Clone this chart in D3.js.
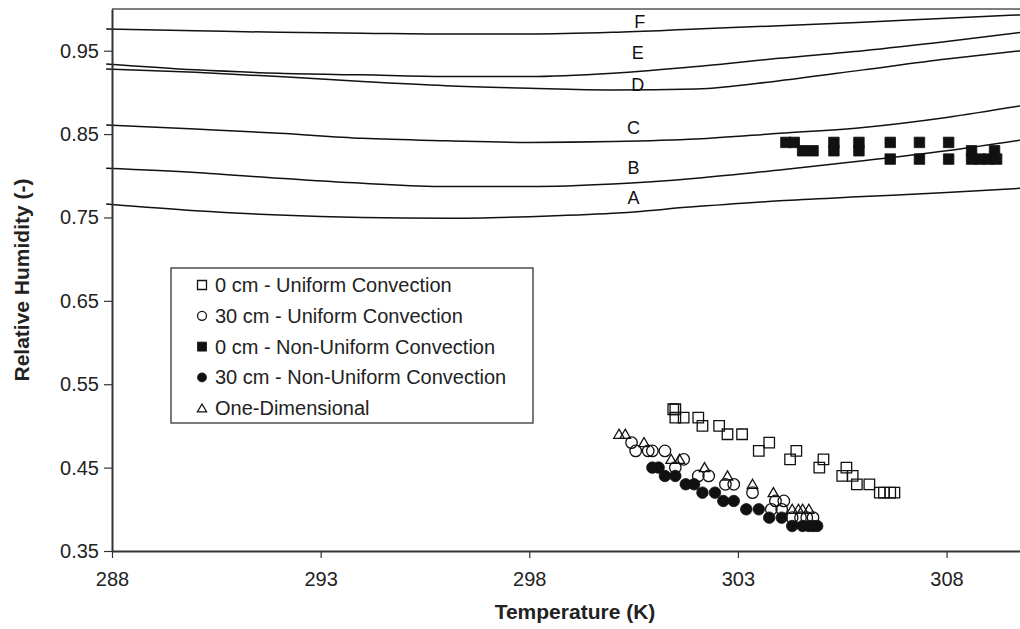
<!DOCTYPE html>
<html>
<head>
<meta charset="utf-8">
<script src="https://cdn.jsdelivr.net/npm/d3@7"></script>
<style>
  html, body { margin: 0; padding: 0; background: #fff; }
  svg { display: block; font-family: "Liberation Sans", Arial, sans-serif; }
</style>
</head>
<body>
<svg id="chart" width="1020" height="629"></svg>
<script>
// Constant relative-humidity reference curves A–F: [temperature K, RH]
const curveA = [[287.86,0.766],[290,0.758],[292,0.753],[294,0.750],[296,0.749],[298,0.751],[300,0.755],[302,0.763],[304,0.770],[306,0.775],[308,0.780],[309.8,0.785]];
const curveB = [[287.86,0.809],[290,0.804],[292,0.797],[294,0.791],[296,0.787],[298,0.787],[300,0.790],[302,0.797],[304,0.807],[306,0.818],[308,0.830],[309.8,0.843]];
const curveC = [[287.86,0.861],[290,0.856],[292,0.851],[294,0.845],[296,0.842],[298,0.840],[300,0.841],[302,0.844],[304,0.851],[306,0.858],[308,0.870],[309.8,0.884]];
const curveD = [[287.86,0.928],[290,0.924],[292,0.919],[294,0.913],[296,0.908],[298,0.905],[300,0.903],[302,0.904],[304,0.914],[306,0.927],[308,0.940],[309.8,0.950]];
const curveE = [[287.86,0.934],[290,0.927],[292,0.923],[294,0.921],[296,0.919],[298,0.919],[300,0.923],[302,0.931],[304,0.941],[306,0.950],[308,0.961],[309.8,0.972]];
const curveF = [[287.86,0.976],[290,0.974],[292,0.972],[294,0.971],[296,0.970],[298,0.970],[300,0.972],[302,0.976],[304,0.980],[306,0.984],[308,0.989],[309.8,0.993]];

const curveNames = ["A", "B", "C", "D", "E", "F"];
// label anchor for each curve letter: [temperature, RH]
const curveLabelPos = [[300.5,0.773],[300.5,0.809],[300.5,0.857],[300.6,0.909],[300.6,0.947],[300.65,0.985]];

// Measured points: [temperature K, RH]
const uniform0cm = [[301.45,0.52],[301.5,0.52],[301.5,0.51],[301.7,0.51],[302.05,0.51],[302.15,0.50],[302.55,0.50],[302.75,0.49],[303.1,0.49],[303.5,0.47],[303.75,0.48],[304.25,0.46],[304.4,0.47],[304.95,0.45],[305.05,0.46],[305.5,0.44],[305.6,0.45],[305.75,0.44],[305.85,0.43],[306.15,0.43],[306.4,0.42],[306.5,0.42],[306.65,0.42],[306.75,0.42]];
const uniform30cm = [[300.45,0.48],[300.55,0.47],[300.85,0.47],[300.95,0.47],[301.25,0.47],[301.7,0.46],[301.5,0.45],[302.05,0.44],[302.3,0.44],[302.7,0.43],[302.9,0.43],[303.35,0.42],[303.9,0.41],[304.1,0.41],[303.8,0.40],[304.05,0.40],[304.3,0.39],[304.5,0.39],[304.65,0.39],[304.8,0.39]];
const nonUniform0cm = [[304.15,0.84],[304.35,0.84],[304.55,0.83],[304.8,0.83],[305.3,0.84],[305.3,0.83],[305.9,0.84],[305.9,0.83],[306.65,0.84],[306.65,0.82],[307.35,0.84],[307.35,0.82],[308.05,0.84],[308.05,0.82],[308.6,0.83],[309.15,0.83],[308.6,0.82],[308.8,0.82],[309.0,0.82],[309.2,0.82]];
const nonUniform30cm = [[300.95,0.45],[301.1,0.45],[301.25,0.44],[301.5,0.44],[301.75,0.43],[301.95,0.43],[302.15,0.42],[302.45,0.42],[302.65,0.41],[302.9,0.41],[303.2,0.40],[303.5,0.40],[303.75,0.39],[304.05,0.39],[304.3,0.38],[304.55,0.38],[304.7,0.38],[304.8,0.38],[304.9,0.38]];
const oneDimensional = [[300.15,0.49],[300.3,0.49],[300.75,0.48],[301.4,0.46],[301.6,0.46],[302.2,0.45],[302.75,0.44],[303.35,0.43],[303.85,0.42],[304.3,0.40],[304.45,0.40],[304.55,0.40],[304.7,0.40]];

const xTicks = [288, 293, 298, 303, 308];
const yTicks = [0.35, 0.45, 0.55, 0.65, 0.75, 0.85, 0.95];
const legendLabels = ["0 cm - Uniform Convection", "30 cm - Uniform Convection", "0 cm - Non-Uniform Convection", "30 cm - Non-Uniform Convection", "One-Dimensional"];

const svg = d3.select("#chart");
const W = 1020, H = 629;
const plot = { left: 112, right: 1020, top: 9, bottom: 551 };

const x = d3.scaleLinear().domain([288, 309.76]).range([plot.left, plot.right]);
const y = d3.scaleLinear().domain([0.35, 1.0]).range([plot.bottom, plot.top]);

svg.append("rect").attr("width", W).attr("height", H).attr("fill", "#fff");

// top frame line
svg.append("line")
  .attr("x1", plot.left).attr("x2", plot.right)
  .attr("y1", plot.top).attr("y2", plot.top)
  .attr("stroke", "#555").attr("stroke-width", 1.5);

// reference curves
svg.append("clipPath").attr("id", "plotclip")
  .append("rect").attr("x", plot.left - 8).attr("y", plot.top)
  .attr("width", plot.right - plot.left + 8).attr("height", plot.bottom - plot.top);

const line = d3.line().x(d => x(d[0])).y(d => y(d[1])).curve(d3.curveMonotoneX);
const curves = [curveA, curveB, curveC, curveD, curveE, curveF];
const gCurves = svg.append("g").attr("clip-path", "url(#plotclip)");
curves.forEach(c => {
  gCurves.append("path").datum(c).attr("d", line)
    .attr("fill", "none").attr("stroke", "#111").attr("stroke-width", 1.5);
});

svg.append("g").selectAll("text").data(curveNames).join("text")
  .attr("x", (d, i) => x(curveLabelPos[i][0]))
  .attr("y", (d, i) => y(curveLabelPos[i][1]))
  .attr("text-anchor", "middle").attr("dominant-baseline", "central")
  .attr("font-size", 18).attr("fill", "#111")
  .text(d => d);

// axes
const xAxis = d3.axisBottom(x).tickValues(xTicks).tickFormat(d3.format("d")).tickSizeInner(7).tickSizeOuter(0).tickPadding(14);
const yAxis = d3.axisLeft(y).tickValues(yTicks).tickFormat(d3.format(".2f")).tickSizeInner(8).tickSizeOuter(0).tickPadding(5);

const gx = svg.append("g").attr("transform", `translate(0,${plot.bottom})`).call(xAxis);
const gy = svg.append("g").attr("transform", `translate(${plot.left},0)`).call(yAxis);
[gx, gy].forEach(g => {
  g.select(".domain").attr("stroke", "#333").attr("stroke-width", 2);
  g.selectAll(".tick line").attr("stroke", "#333").attr("stroke-width", 1.2);
  g.selectAll(".tick text").attr("font-size", 20).attr("fill", "#222")
    .attr("font-family", "'Liberation Sans', Arial, sans-serif");
});

// axis titles
svg.append("text").attr("x", 575).attr("y", 619)
  .attr("text-anchor", "middle").attr("font-size", 21).attr("font-weight", "bold").attr("fill", "#222")
  .text("Temperature (K)");
svg.append("text")
  .attr("transform", `translate(29,${(plot.top + plot.bottom) / 2}) rotate(-90)`)
  .attr("text-anchor", "middle").attr("font-size", 21).attr("font-weight", "bold").attr("fill", "#222")
  .text("Relative Humidity (-)");

// marker drawing
const sym = {
  square: d3.symbol().type(d3.symbolSquare),
  circle: d3.symbol().type(d3.symbolCircle),
  triangle: d3.symbol().type(d3.symbolTriangle)
};
function marker(g, shape, filled, size) {
  // size: approximate pixel width of the marker
  let area;
  if (shape === "square") area = size * size;
  else if (shape === "circle") area = Math.PI * (size / 2) * (size / 2);
  else area = size * size * Math.sqrt(3) / 4;
  g.attr("d", sym[shape].size(area)())
    .attr("fill", filled ? "#111" : "none")
    .attr("stroke", "#111").attr("stroke-width", filled ? 0.8 : 1.3);
}

const series = [
  { data: uniform0cm, shape: "square", filled: false },
  { data: uniform30cm, shape: "circle", filled: false },
  { data: nonUniform0cm, shape: "square", filled: true },
  { data: nonUniform30cm, shape: "circle", filled: true },
  { data: oneDimensional, shape: "triangle", filled: false }
];

const gPts = svg.append("g");
series.forEach(s => {
  gPts.append("g").selectAll("path").data(s.data).join("path")
    .attr("transform", d => {
      const dy = s.shape === "triangle" ? 1 : 0;
      return `translate(${x(d[0])},${y(d[1]) + dy})`;
    })
    .each(function () { marker(d3.select(this), s.shape, s.filled, s.shape === "circle" ? 11.5 : 10.5); });
});

// legend
const lg = svg.append("g");
lg.append("rect").attr("x", 171).attr("y", 268).attr("width", 362).attr("height", 155)
  .attr("fill", "#fff").attr("stroke", "#333").attr("stroke-width", 1.3);
legendLabels.forEach((lab, i) => {
  const cy = 285 + i * 30.8;
  const s = series[i];
  lg.append("path").attr("transform", `translate(202,${cy + (s.shape === "triangle" ? 1 : 0)})`)
    .call(g => marker(g, s.shape, s.filled, 9));
  lg.append("text").attr("x", 215).attr("y", cy).attr("dominant-baseline", "central")
    .attr("font-size", 20).attr("fill", "#222").text(lab);
});
</script>
</body>
</html>
